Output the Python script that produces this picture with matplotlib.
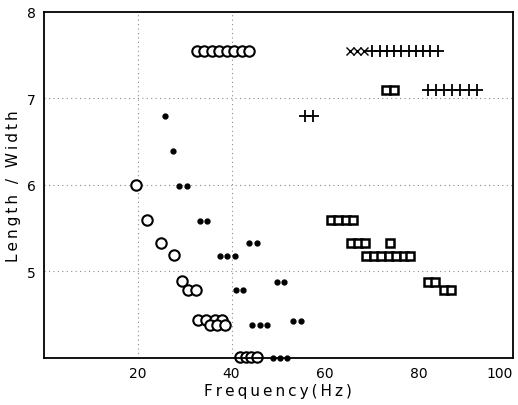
import matplotlib.pyplot as plt
import numpy as np

# open circles
circ_f = [32.6, 34.2, 35.8, 37.4, 39.0, 40.6, 42.2, 43.7,
          19.6, 22.0, 25.0, 27.7, 29.4, 30.7, 32.4,
          32.8, 34.6, 36.4, 38.0, 35.4, 37.0, 38.6,
          41.8, 43.0, 44.2, 45.4]
circ_l = [7.55] * 8 + [6.0, 5.6, 5.33, 5.19, 4.89, 4.79, 4.79,
          4.44, 4.44, 4.44, 4.44, 4.38, 4.38, 4.38,
          4.01, 4.01, 4.01, 4.01]

# small filled dots
dot_f = [25.8, 27.5, 28.8, 30.5, 33.3, 34.8, 37.5, 39.0, 40.7,
         43.7, 45.4, 40.9, 42.4, 49.7, 51.2, 44.3, 46.0, 47.5,
         53.1, 54.8, 48.8, 50.3, 51.8]
dot_l = [6.80, 6.39, 5.99, 5.99, 5.58, 5.58, 5.18, 5.18, 5.18,
         5.33, 5.33, 4.79, 4.79, 4.88, 4.88, 4.38, 4.38, 4.38,
         4.43, 4.43, 4.0, 4.0, 4.0]

# open squares
sq_f = [61.2, 62.7, 64.4, 65.9,
        65.4, 66.9, 68.4, 73.8,
        68.7, 70.3, 71.9, 73.5, 75.1, 76.7, 78.1,
        81.8, 83.4, 85.3, 86.9,
        73.0, 74.6]
sq_l = [5.6] * 4 + [5.33] * 4 + [5.18] * 7 + [4.88, 4.88, 4.79, 4.79, 7.1, 7.1]

# crosses
x_f = [65.2, 66.7, 68.2]
x_l = [7.55] * 3

# pluses
plus_f = [70.0, 71.6, 73.1, 74.7, 76.2, 77.8, 79.3, 80.9, 82.4, 84.0,
          81.9, 83.6, 85.4, 87.1, 88.8, 90.6, 92.3,
          55.7, 57.4]
plus_l = [7.55] * 10 + [7.1] * 7 + [6.8, 6.8]

x_ticks = [20, 40, 60, 80, 100]
y_ticks = [5, 6, 7, 8]

fig = plt.figure(figsize=(5.18, 4.06), dpi=100)
ax = fig.add_axes([0.085, 0.116, 0.905, 0.852])

for v in [20, 40]:
    ax.axvline(v, color='0.55', lw=0.8, ls=(0, (1, 3)), zorder=0)
for v in [5, 6, 7]:
    ax.axhline(v, color='0.55', lw=0.8, ls=(0, (1, 3)), zorder=0)

ax.plot(circ_f, circ_l, 'o', ms=7.5, mfc='white', mec='black', mew=1.5, ls='none', clip_on=False)
ax.plot(dot_f, dot_l, 'o', ms=3.5, color='black', ls='none', clip_on=False)
ax.plot(sq_f, sq_l, 's', ms=5.5, mfc='white', mec='black', mew=1.8, ls='none', clip_on=False)
ax.plot(x_f, x_l, 'x', ms=5.5, color='black', mew=1.0, ls='none', clip_on=False)
ax.plot(plus_f, plus_l, '+', ms=8, color='black', mew=1.3, ls='none', clip_on=False)

ax.set_xlim(0, 100)
ax.set_ylim(4, 8)
ax.set_xticks(x_ticks)
ax.set_yticks(y_ticks)
ax.tick_params(length=0, labelsize=10, pad=6)
ax.get_xticklabels()[-1].set_horizontalalignment('right')
for s in ax.spines.values():
    s.set_linewidth(1.3)

ts = '\u2009'
ax.set_xlabel(ts.join('Frequency(Hz)'), fontsize=11, labelpad=2)
ax.set_ylabel(ts.join('Length / Width'), fontsize=11, labelpad=4)

fig.savefig('out.png', dpi=100)
